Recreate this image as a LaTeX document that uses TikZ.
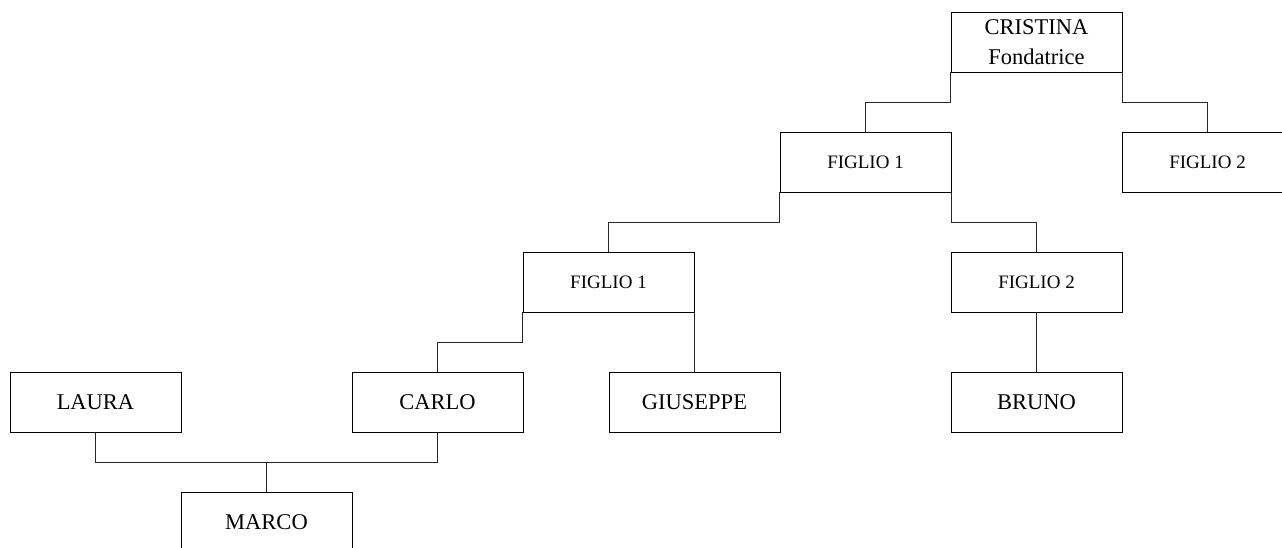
\documentclass[tikz,border=0pt]{standalone}
\usepackage{fontspec}
\setmainfont{Liberation Serif}
\begin{document}
\begin{tikzpicture}[x=1pt,y=-1pt,
  person/.style={draw=black,line width=0.9pt,fill=white,minimum width=171pt,minimum height=60pt,
    inner sep=0pt,align=center,font=\fontsize{22.5}{30}\selectfont},
  child/.style={person,font=\fontsize{19}{24}\selectfont},
  link/.style={draw=black!85,line width=0.9pt}]
\useasboundingbox (0,0) rectangle (1282,547);
\clip (0,0) rectangle (1282,547);
\fill[white] (0,0) rectangle (1282,547);

% family members
\node[person] (cris)  at (1036.5,42)  {CRISTINA\\Fondatrice};
\node[child]  (f1)    at (865.5,162)  {FIGLIO 1};
\node[child]  (f2)    at (1207.5,162) {FIGLIO 2};
\node[child]  (fa)    at (608.5,282)  {FIGLIO 1};
\node[child]  (fb)    at (1036.5,282) {FIGLIO 2};
\node[person] (laura) at (95.5,402)   {LAURA};
\node[person] (carlo) at (437.5,402)  {CARLO};
\node[person] (gius)  at (694.5,402)  {GIUSEPPE};
\node[person] (bruno) at (1036.5,402) {BRUNO};
\node[person] (marco) at (266.5,522)  {MARCO};

% descent lines
\draw[link] (cris.south west) -- ++(0,30) -| (f1.north);
\draw[link] (cris.south east) -- ++(0,30) -| (f2.north);
\draw[link] (f1.south west) -- ++(0,30) -| (fa.north);
\draw[link] (f1.south east) -- ++(0,30) -| (fb.north);
\draw[link] (fa.south west) -- ++(0,30) -| (carlo.north);
\draw[link] (fa.south east) -- (fa.south east |- gius.north);
\draw[link] (fb.south) -- (bruno.north);

% marriage line and son
\coordinate (join) at (266.5,462);
\draw[link] (laura.south) |- (join) -| (carlo.south);
\draw[link] (join) -- (marco.north);
\end{tikzpicture}
\end{document}
